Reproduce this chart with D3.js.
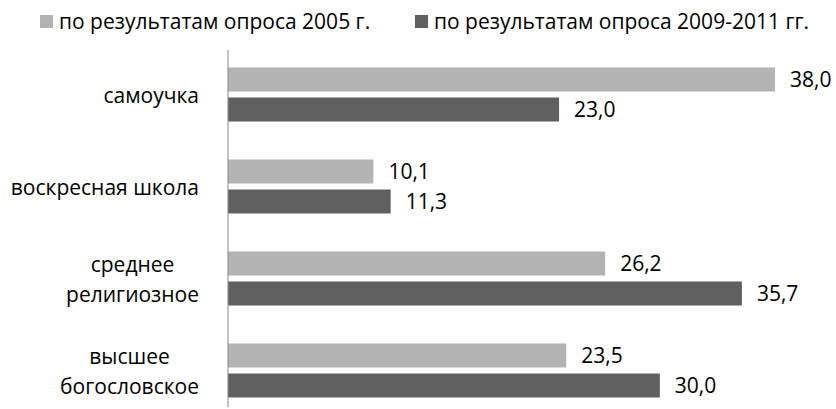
<!DOCTYPE html>
<html>
<head>
<meta charset="utf-8">
<script src="https://cdn.jsdelivr.net/npm/d3@7"></script>
<style>
  body { margin: 0; background: #fff; }
  svg { display: block; font-family: "Open Sans", sans-serif; }
</style>
</head>
<body>
<div class="chart"></div>
<script>
const categories = [
  ["самоучка"],
  ["воскресная школа"],
  ["среднее", "религиозное"],
  ["высшее", "богословское"],
];
const seriesNames = [
  "по результатам опроса 2005 г.",
  "по результатам опроса 2009-2011 гг.",
];
const values2005 = [38.0, 10.1, 26.2, 23.5];
const values2009 = [23.0, 11.3, 35.7, 30.0];
const colors = ["#b3b3b3", "#606060"];

const width = 836, height = 409;
const x0 = 228;
const fontSize = 21;

const ru = d3.formatLocale({ decimal: ",", thousands: " ", grouping: [3], currency: ["", ""] });
const fmt = ru.format(".1f");

const data = categories.map((c, i) => ({
  key: c.join(" "),
  lines: c,
  vals: [values2005[i], values2009[i]],
}));

const svg = d3
  .select(".chart")
  .append("svg")
  .attr("width", width)
  .attr("height", height);

const xScale = d3.scaleLinear().domain([0, 38]).range([x0, 775]);
const yScale = d3
  .scaleBand()
  .domain(data.map((d) => d.key))
  .range([48.5, 416.5]);
const ySub = d3
  .scaleBand()
  .domain([0, 1])
  .range([yScale.bandwidth() / 2 - 27, yScale.bandwidth() / 2 + 27])
  .paddingInner(0.2);

const groups = svg
  .selectAll("g.group")
  .data(data)
  .enter()
  .append("g")
  .attr("class", "group")
  .attr("transform", (d) => `translate(0,${yScale(d.key)})`);

groups
  .selectAll("rect")
  .data((d) => d.vals.map((v, i) => ({ v, i })))
  .enter()
  .append("rect")
  .attr("x", x0)
  .attr("y", (d) => ySub(d.i))
  .attr("width", (d) => xScale(d.v) - x0)
  .attr("height", ySub.bandwidth())
  .attr("fill", (d) => colors[d.i]);

groups
  .selectAll("text.val")
  .data((d) => d.vals.map((v, i) => ({ v, i })))
  .enter()
  .append("text")
  .attr("class", "val")
  .attr("x", (d) => xScale(d.v) + 15)
  .attr("y", (d) => ySub(d.i) + ySub.bandwidth() / 2)
  .attr("dy", "0.35em")
  .attr("font-size", fontSize)
  .attr("fill", "#000")
  .text((d) => fmt(d.v));

// category labels, block right-aligned, lines centred
groups.each(function (d) {
  const g = d3.select(this);
  const n = d.lines.length;
  const mid = yScale.bandwidth() / 2;
  const t = g
    .append("text")
    .attr("font-size", fontSize)
    .attr("fill", "#000")
    .attr("text-anchor", "middle");
  d.lines.forEach((line, k) => {
    t.append("tspan")
      .attr("x", 0)
      .attr("y", mid + 1 + (k - (n - 1) / 2) * 30)
      .attr("dy", "0.35em")
      .text(line);
  });
  const w = t.node().getBBox().width;
  t.selectAll("tspan").attr("x", 199 - w / 2);
});

// axis line
svg
  .append("line")
  .attr("x1", x0)
  .attr("x2", x0)
  .attr("y1", 50)
  .attr("y2", 407)
  .attr("stroke", "#888")
  .attr("stroke-width", 1);

// legend
const legendX = [40, 415];
const legend = svg
  .selectAll("g.legend")
  .data(seriesNames)
  .enter()
  .append("g")
  .attr("class", "legend")
  .attr("transform", (d, i) => `translate(${legendX[i]},15)`);
legend
  .append("rect")
  .attr("width", 13)
  .attr("height", 13)
  .attr("fill", (d, i) => colors[i]);
legend
  .append("text")
  .attr("x", 19)
  .attr("y", 7)
  .attr("dy", "0.35em")
  .attr("font-size", fontSize)
  .attr("fill", "#000")
  .text((d) => d);
</script>
</body>
</html>
